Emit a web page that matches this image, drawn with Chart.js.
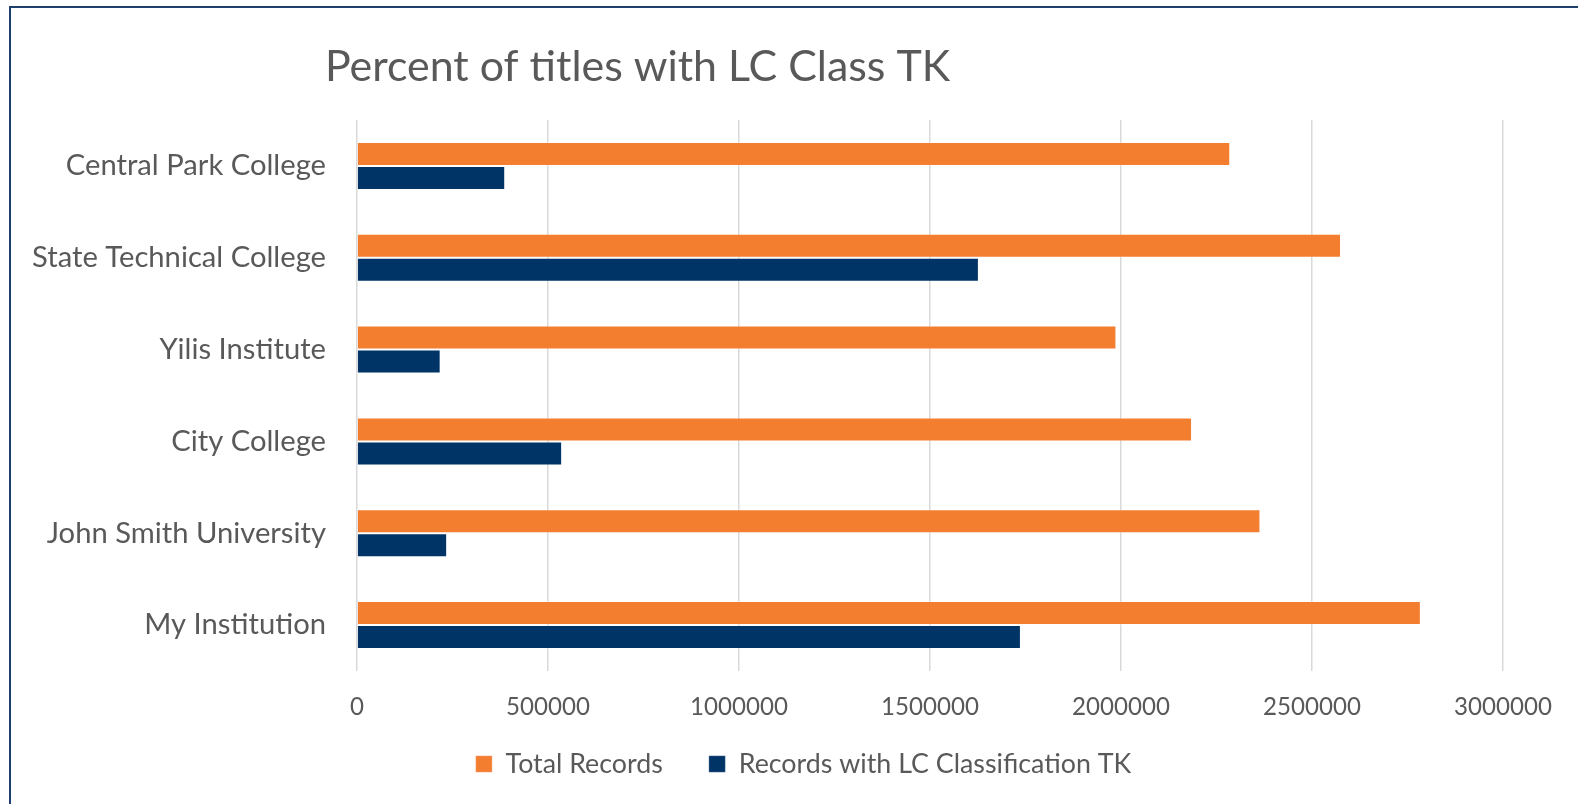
<!DOCTYPE html>
<html><head><meta charset="utf-8">
<script src="https://cdn.jsdelivr.net/npm/chart.js@4.4.0/dist/chart.umd.min.js"></script>
<style>
html,body{margin:0;padding:0;background:#fff;}
#wrap{position:relative;width:1578px;height:804px;overflow:hidden;background:#fff;}
#frame{position:absolute;left:9px;top:6px;width:1700px;height:900px;border-left:2px solid #1F3F6E;border-top:2px solid #1F3F6E;pointer-events:none;}
</style></head><body>
<div id="wrap"><canvas id="c" width="1578" height="804"></canvas><div id="frame"></div></div>
<script>
// ---- data ----
const chartTitle = 'Percent of titles with LC Class TK';
const categories = ['Central Park College', 'State Technical College', 'Yilis Institute', 'City College', 'John Smith University', 'My Institution'];
const seriesNames = ['Total Records', 'Records with LC Classification TK'];
const totalRecords = [2286000, 2576000, 1988000, 2186000, 2365000, 2785000];
const lcRecords = [388000, 1628000, 219000, 537000, 236000, 1738000];
const xTickValues = [0, 500000, 1000000, 1500000, 2000000, 2500000, 3000000];

// ---- style ----
const FAMILY = 'Lato';
const TEXT = '#595959';
const ORANGE = '#F47E30';
const NAVY = '#003366';
const fT = 42.9, fY = 29.2, fX = 24.1, fL = 26.8;

const PAD_RIGHT = 75;
const AREA_LEFT = 357, AREA_TOP = 120, AREA_BOTTOM = 671;
const TITLE_MID = 67;
const LEGEND_PAD = 46, LEGEND_MID = 764, LEGEND_LEFT = 104;

const placer = {
  id: 'placer',
  afterLayout(chart) {
    chart.titleBlock.left = 325;
    chart.titleBlock.right = chart.width;
    const lg = chart.legend;
    const h = lg.height;
    lg.left = LEGEND_LEFT;
    lg.top = LEGEND_MID - LEGEND_PAD - fL / 2;
    lg.bottom = lg.top + h;
  }
};

new Chart(document.getElementById('c'), {
  type: 'bar',
  data: {
    labels: categories,
    datasets: [
      { label: seriesNames[0], data: totalRecords, backgroundColor: ORANGE, borderColor: 'rgba(255,255,255,0.3)', borderWidth: 1 },
      { label: seriesNames[1], data: lcRecords, backgroundColor: NAVY, borderColor: 'rgba(255,255,255,0.25)', borderWidth: 1 }
    ]
  },
  options: {
    indexAxis: 'y',
    responsive: false,
    animation: false,
    devicePixelRatio: 1,
    layout: { padding: { left: 0, right: PAD_RIGHT, top: 0, bottom: 0 } },
    datasets: { bar: { categoryPercentage: 0.522, barPercentage: 1.0 } },
    scales: {
      x: {
        type: 'linear', min: 0, max: 3000000,
        afterBuildTicks(s) { s.ticks = xTickValues.map(v => ({ value: v })); },
        grid: { color: '#D9D9D9', lineWidth: 1.5, drawTicks: false },
        border: { display: false },
        ticks: { color: TEXT, font: { family: FAMILY, size: fX }, padding: 36.5 - 0.6 * fX, callback: v => String(v), maxRotation: 0 },
        afterFit(s) { s.height = s.chart.height - s.chart.legend.height - AREA_BOTTOM; }
      },
      y: {
        grid: { display: false, drawTicks: false },
        border: { display: false },
        ticks: { color: TEXT, font: { family: FAMILY, size: fY }, padding: 31 },
        afterFit(s) { s.width = AREA_LEFT; }
      }
    },
    plugins: {
      title: {
        display: true, text: chartTitle, align: 'start', color: TEXT,
        font: { family: FAMILY, size: fT, weight: 'normal', lineHeight: 1.2 },
        padding: { top: TITLE_MID - 0.6 * fT, bottom: AREA_TOP - TITLE_MID - 0.6 * fT }
      },
      legend: {
        position: 'bottom',
        labels: { color: TEXT, font: { family: FAMILY, size: fL }, boxWidth: 16.5, boxHeight: 16.5, padding: LEGEND_PAD }
      },
      tooltip: { enabled: false }
    }
  },
  plugins: [placer]
});
</script>
</body></html>
